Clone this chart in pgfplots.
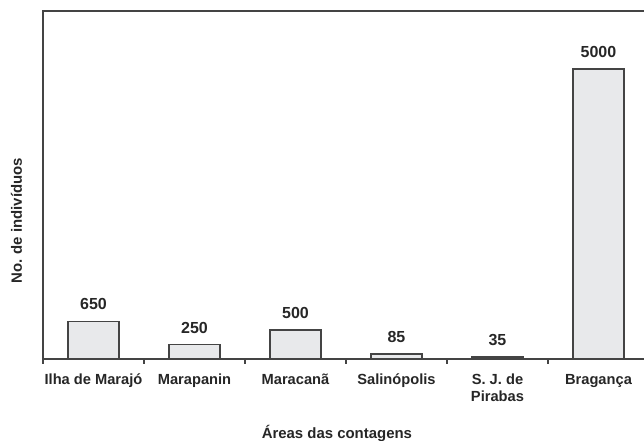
\documentclass[border=0pt]{standalone}
\usepackage{pgfplots}
\pgfplotsset{compat=1.18}
\usepackage{fontspec}
\setmainfont{Liberation Sans}
\definecolor{axc}{HTML}{444444}
\definecolor{barfill}{HTML}{E8E9EB}
\begin{document}
\begin{tikzpicture}
\begin{axis}[
  name=ax,
  scale only axis,
  width=454.5pt, height=261pt,
  xmin=-0.5, xmax=5.5,
  ymin=0, ymax=6000,
  axis line style={draw=axc, line width=1.2pt},
  xtick={0,1,2,3,4,5},
  xticklabels={Ilha de Marajó,Marapanin,Maracanã,Salinópolis,{S. J. de\\Pirabas},Bragança},
  xtick pos=bottom,
  major tick length=0pt,
  minor xtick={-0.5,0.5,1.5,2.5,3.5,4.5,5.5},
  minor tick length=3.5pt,
  tick align=outside,
  tick style={draw=axc, line width=1.2pt},
  ytick=\empty,
  xticklabel style={font=\fontsize{11}{12.5}\selectfont\bfseries, align=center, anchor=north, inner sep=0pt, yshift=-11pt, text=black!85},
  xlabel={Áreas das contagens},
  xlabel style={font=\fontsize{11.2}{13}\selectfont\bfseries, at={(axis description cs:0.485,0)}, anchor=center, yshift=-55.5pt, text=black!85},
  ylabel={No. de indivíduos},
  ylabel style={font=\fontsize{11.2}{13}\selectfont\bfseries, at={(axis description cs:-0.0437,0.397)}, anchor=center, text=black!85},
  ybar, bar width=0.505,
  nodes near coords={\pgfmathprintnumber[assume math mode=true, 1000 sep={}]{\pgfplotspointmeta}},
  nodes near coords style={font=\fontsize{12}{14}\selectfont\bfseries, anchor=center, yshift=12.75pt, text=black!85},
  clip=false,
]
\addplot[draw=axc, fill=barfill, line width=0.9pt] coordinates {(0,650) (1,250) (2,500) (3,85) (4,35) (5,5000)};
\end{axis}
\pgfresetboundingbox
\path[use as bounding box] (ax.south west) ++(-32.25pt,-61.5pt) rectangle ++(483pt,330.75pt);
\end{tikzpicture}
\end{document}
